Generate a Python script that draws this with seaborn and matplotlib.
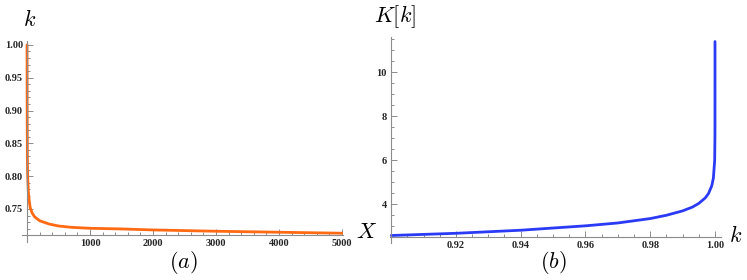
import numpy as np
import matplotlib
matplotlib.use('Agg')
import matplotlib.pyplot as plt
import seaborn as sns

# panel (a): k against X
x_a = [0, 2, 5, 10, 20, 35, 50, 80, 120, 200, 350, 500, 700, 1000, 1500, 2000, 3000, 4000, 5000]
k_a = [1.0, 0.90, 0.83, 0.80, 0.777, 0.762, 0.752, 0.744, 0.738, 0.732, 0.727, 0.724,
       0.722, 0.7205, 0.7195, 0.718, 0.716, 0.7145, 0.713]

# panel (b): K[k] against k
k_b = [0.9, 0.92, 0.94, 0.96, 0.97, 0.98, 0.985, 0.99, 0.993, 0.995, 0.997, 0.998,
       0.999, 0.9995, 0.9999, 0.99999, 0.999999, 0.9999999, 0.99999999, 0.999999998]
K_b = [2.58, 2.68, 2.82, 3.02, 3.15, 3.35, 3.50, 3.70, 3.87, 4.04, 4.29, 4.49,
       4.84, 5.19, 5.99, 7.14, 8.29, 9.45, 10.6, 11.4]

xticks_a = [1000, 2000, 3000, 4000, 5000]
yticks_a = [0.75, 0.80, 0.85, 0.90, 0.95, 1.00]
xticks_b = [0.92, 0.94, 0.96, 0.98, 1.00]
yticks_b = [4, 6, 8, 10]

sns.set_theme(style='white')
plt.rcParams['mathtext.fontset'] = 'cm'
plt.rcParams['font.family'] = ['Liberation Serif', 'DejaVu Serif']

W, H = 747, 280
fig = plt.figure(figsize=(W / 100, H / 100), dpi=100)


def px_axes(x0, x1, ytop, ybot):
    return fig.add_axes([x0 / W, 1 - ybot / H, (x1 - x0) / W, (ybot - ytop) / H])


def style_axes(ax, x0, y0):
    for s in ['top', 'right']:
        ax.spines[s].set_visible(False)
    ax.spines['left'].set_position(('data', x0))
    ax.spines['bottom'].set_position(('data', y0))
    for s in ['left', 'bottom']:
        ax.spines[s].set_color('#8c8c8c')
        ax.spines[s].set_linewidth(0.8)
    ax.tick_params(which='both', direction='in', color='#8c8c8c', width=0.7,
                   labelsize=7.5, pad=3, left=True, bottom=True)
    ax.tick_params(which='major', length=4)
    ax.tick_params(which='minor', length=2.2)
    for lab in ax.get_xticklabels() + ax.get_yticklabels():
        lab.set_fontweight('bold')
    ax.set_xlabel('')
    ax.set_ylabel('')
    ax.grid(False)


# (a)
ax1 = px_axes(22, 343, 41, 242.4)
sns.lineplot(x=x_a, y=k_a, ax=ax1, color='#ff6a13', linewidth=2.0)
ax1.set_xlim(-80, 5016)
ax1.set_ylim(0.699, 1.006)
ax1.set_xticks(xticks_a)
ax1.set_xticklabels([str(v) for v in xticks_a])
ax1.set_yticks(yticks_a)
ax1.set_yticklabels(['%.2f' % v for v in yticks_a])
ax1.set_xticks(np.arange(200, 5001, 200), minor=True)
ax1.set_yticks(np.arange(0.72, 1.001, 0.01), minor=True)
style_axes(ax1, 0, 0.71)

# (b)
ax2 = px_axes(389.5, 720.5, 36.7, 243.2)
sns.lineplot(x=k_b, y=K_b, ax=ax2, color='#2b3bf5', linewidth=2.0)
ax2.set_xlim(0.8995, 1.0017)
ax2.set_ylim(2.23, 11.62)
ax2.set_xticks(xticks_b)
ax2.set_xticklabels(['%.2f' % v for v in xticks_b])
ax2.set_yticks(yticks_b)
ax2.set_yticklabels([str(v) for v in yticks_b])
ax2.set_xticks(np.arange(0.905, 1.0001, 0.005), minor=True)
ax2.set_yticks(np.arange(3.0, 11.51, 0.5), minor=True)
style_axes(ax2, 0.9, 2.5)

# axis labels and panel captions
lab = dict(ha='center', va='center', fontsize=16, color='black')
fig.text(30 / W, 1 - 21 / H, r'$k$', **lab)
fig.text(366 / W, 1 - 233 / H, r'$X$', **lab)
fig.text(183 / W, 1 - 262 / H, r'$(a)$', **lab)
fig.text(395 / W, 1 - 17 / H, r'$K[k]$', **lab)
fig.text(736 / W, 1 - 236 / H, r'$k$', **lab)
fig.text(553 / W, 1 - 263 / H, r'$(b)$', **lab)

fig.savefig('out.png', dpi=100, facecolor='white')
